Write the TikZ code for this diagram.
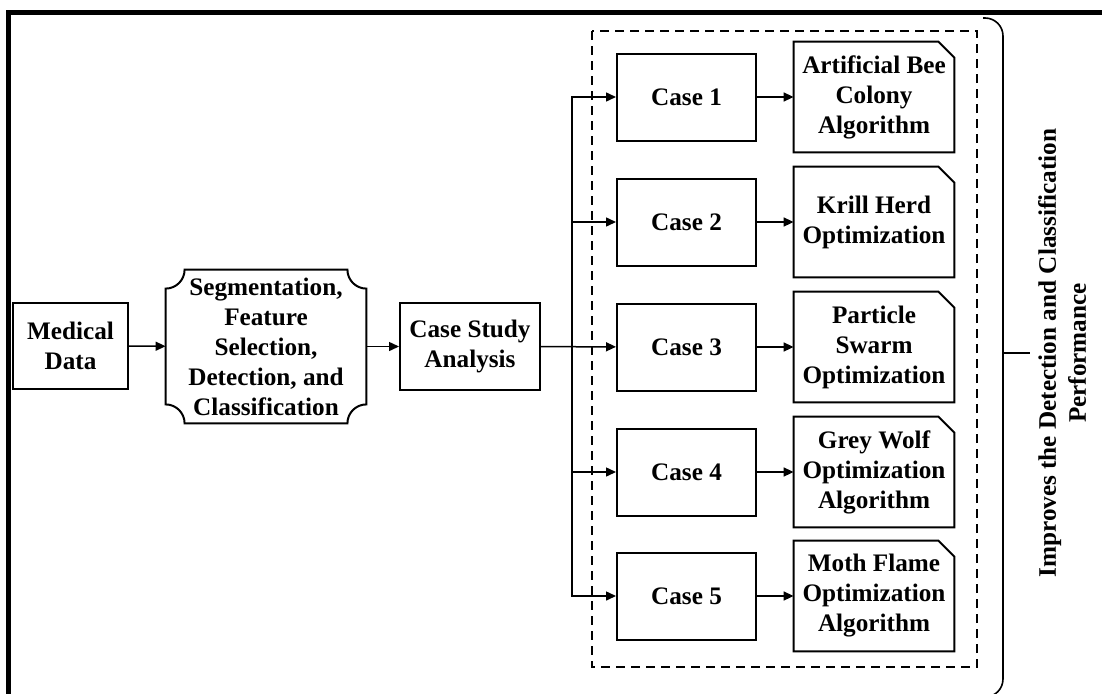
\documentclass[tikz,border=0pt]{standalone}
\usepackage{fontspec}
\setmainfont{Liberation Serif}
\usetikzlibrary{arrows.meta}

\begin{document}
\begin{tikzpicture}[x=0.5pt,y=0.5pt,
		font=\fontsize{12.6}{15}\selectfont\bfseries,
		box/.style={draw,line width=1pt,align=center,inner sep=1pt},
		casebox/.style={box,minimum width=69.5pt,minimum height=43.5pt},
		algbox/.style={align=center,inner sep=1pt,minimum width=80pt,minimum height=55pt},
		link/.style={line width=0.75pt,-{Triangle[length=5pt,width=4.5pt]}}]
			\useasboundingbox (0,0) rectangle (1102,693);

			% outer frame
			\draw[line width=2.5pt] (8.5,-10) -- (8.5,680.5) -- (1110,680.5);

			\draw (70.5,347) node [box, minimum width=57.5pt, minimum height=43pt] (med) {Medical\\Data};
			\draw (266,346.5) node [align=center, minimum width=100pt, minimum height=76.5pt] (seg) {Segmentation,\\Feature\\Selection,\\Detection, and\\Classification};
			\draw (470,346.5) node [box, minimum width=70pt, minimum height=43.5pt] (csa) {Case Study\\Analysis};

			% concave corners
			\draw[line width=1pt] ([yshift=-9.5pt]seg.north west) arc[start angle=-90, end angle=0, radius=9.5pt]
				-- ([xshift=-9.5pt]seg.north east) arc[start angle=180, end angle=270, radius=9.5pt]
				-- ([yshift=9.5pt]seg.south east) arc[start angle=90, end angle=180, radius=9.5pt]
				-- ([xshift=9.5pt]seg.south west) arc[start angle=0, end angle=90, radius=9.5pt] -- cycle;

			\draw (686.5,596) node [casebox] (case1) {Case 1};
			\draw (686.5,471) node [casebox] (case2) {Case 2};
			\draw (686.5,346) node [casebox] (case3) {Case 3};
			\draw (686.5,221) node [casebox] (case4) {Case 4};
			\draw (686.5,97) node [casebox] (case5) {Case 5};

			\draw (874,596) node [algbox] (alg1) {Artificial Bee\\Colony\\Algorithm};
			\draw (874,471) node [algbox] (alg2) {Krill Herd\\Optimization};
			\draw (874,346) node [algbox] (alg3) {Particle\\Swarm\\Optimization};
			\draw (874,221) node [algbox] (alg4) {Grey Wolf\\Optimization\\Algorithm};
			\draw (874,97) node [algbox] (alg5) {Moth Flame\\Optimization\\Algorithm};

			% cut corner of the algorithm boxes
			\foreach \i in {1,...,5}
				\draw[line width=1pt] (alg\i.south west) -- (alg\i.north west) -- ([xshift=-8pt]alg\i.north east)
					-- ([yshift=-8pt]alg\i.north east) -- (alg\i.south east) -- cycle;

			\draw[line width=1pt, dash pattern=on 4.5pt off 3pt] (592,662) rectangle (977,26);

			\draw[link] (med) -- (seg);
			\draw[link] (seg) -- (csa);
			\draw[link] (csa) -- (case3);

			\coordinate (split) at (572,346.5);
			\draw[link] (split) |- (case1);
			\draw[link] (split) |- (case2);
			\draw[link] (split) |- (case4);
			\draw[link] (split) |- (case5);

			\foreach \i in {1,...,5}
				\draw[link] (case\i) -- (alg\i);

			% bracket and result
			\draw[line width=0.8pt, rounded corners=9pt] (983,675) -| (1003,-4) -- (983,-4);
			\draw (1062,340) node [rotate=90, align=center] (result) {Improves the Detection and Classification\\Performance};
			\coordinate (tick) at (1003,340);
			\draw[line width=0.8pt] (tick) -- ++(27,0);
		\end{tikzpicture}
\end{document}
